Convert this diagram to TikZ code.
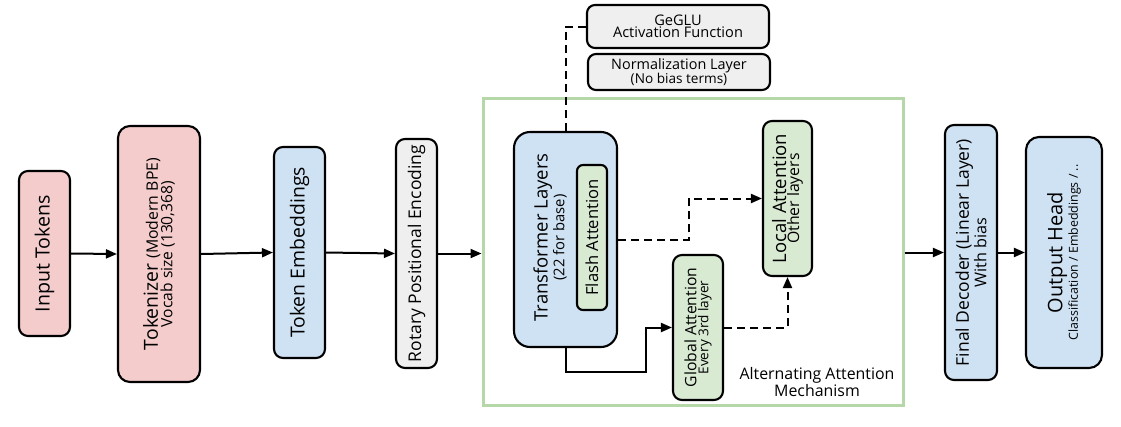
\documentclass[tikz,border=0pt]{standalone}
\usepackage{fontspec}
\setmainfont{Open Sans}
\usetikzlibrary{arrows.meta,calc}
\newcommand\fsz[2]{\fontsize{#1}{#2}\selectfont}
\definecolor{pinkf}{HTML}{F4CCCC}
\definecolor{bluef}{HTML}{CFE2F3}
\definecolor{greenf}{HTML}{D9EAD3}
\definecolor{grayf}{HTML}{EFEFEF}
\definecolor{frameg}{HTML}{B6D7A8}
\tikzset{
  box/.style={draw=black, line width=2.1pt, rounded corners=9pt, rotate=90, align=center, inner sep=0pt},
  hbox/.style={draw=black, line width=2.1pt, rounded corners=8pt, align=center, inner sep=0pt, fill=grayf},
  arr/.style={-{Triangle[length=11pt,width=9pt]}, line width=2pt},
  darr/.style={-{Triangle[length=11pt,width=9pt]}, line width=2pt, dash pattern=on 8pt off 5pt},
  dline/.style={line width=2pt, dash pattern=on 8pt off 5pt},
}
\begin{document}
\begin{tikzpicture}[x=1pt,y=-1pt]
\useasboundingbox[fill=white] (0,0) rectangle (1121,426);
% left chain
\node[box, fill=pinkf, minimum width=165pt, minimum height=51pt] (in) at (44.5,253.5) {\fsz{19.6}{23}Input Tokens};
\node[box, fill=pinkf, rounded corners=12pt, minimum width=256pt, minimum height=82pt] (tok) at (159,254)
  {\fsz{19.4}{22}Tokenizer {\fsz{15.8}{22}(Modern BPE)}\\[-1pt]\fsz{15.6}{19}Vocab size (130,368)};
\node[box, fill=bluef, minimum width=211pt, minimum height=51pt] (emb) at (299.5,252.5) {\fsz{19.4}{22}Token Embeddings};
\node[box, fill=grayf, minimum width=229pt, minimum height=41pt] (rot) at (416.5,253.5) {\fsz{17.5}{20}Rotary Positional Encoding};
% frame
\node[draw=frameg, line width=3pt, minimum width=420pt, minimum height=307pt, inner sep=0pt] (frame) at (693,251.5) {};
% top boxes
\node[hbox, minimum width=182pt, minimum height=43pt] (geglu) at (678,26.5) {\fsz{14.6}{18.5}GeGLU\\\fsz{14.6}{18.5}Activation Function};
\node[hbox, minimum width=182pt, minimum height=36pt] (norm) at (679,72) {\fsz{14.4}{16.5}Normalization Layer\\\fsz{13.6}{16}(No bias terms)};
% transformer
\node[box, fill=bluef, rounded corners=16pt, minimum width=215pt, minimum height=103pt] (tl) at (565.5,239.5) {};
\node[rotate=90, align=center, inner sep=0pt] (tlt) at (550,237.5) {\fsz{18.5}{21}Transformer Layers\\\fsz{14.8}{18}(22 for base)};
\node[box, fill=greenf, rounded corners=6pt, minimum width=145pt, minimum height=30pt] (fl) at (592,237.5) {\fsz{16.6}{18}Flash Attention};
\node[box, fill=greenf, minimum width=155pt, minimum height=49pt] (loc) at (787.5,198.5) {\fsz{18.5}{21}Local Attention\\\fsz{15.8}{18}Other layers};
\node[box, fill=greenf, minimum width=145pt, minimum height=50pt] (gl) at (698,327.5) {\fsz{15.7}{17}Global Attention\\\fsz{13.6}{15}Every 3rd layer};
\node[align=center, inner sep=0pt] (alt) at (817,382) {\fsz{15.9}{18}Alternating Attention\\\fsz{15.9}{18}Mechanism};
% right
\node[box, fill=bluef, minimum width=255pt, minimum height=52pt] (fd) at (971,252.5) {\fsz{17.5}{21}Final Decoder (Linear Layer)\\\fsz{16.2}{19}With bias};
\node[box, fill=bluef, rounded corners=13pt, minimum width=231pt, minimum height=76pt] (out) at (1064,252.5) {\fsz{20}{21}Output Head\\\fsz{12.4}{15}Classification / Embeddings / ..};
% coordinates
\coordinate (j1) at (689,0);
\coordinate (j2) at (646,372);
% connectors
\draw[arr] (in.south) -- (tok.north);
\draw[arr] (tok.south) -- (emb.north);
\draw[arr] (emb.south) -- (rot.north);
\draw[arr] (rot.south) -- (rot.south -| frame.west);
\draw[arr] (frame.east |- fd.north) -- (fd.north);
\draw[arr] (fd.south) -- (out.north);
\draw[dline] (geglu.west) -| (tl.east);
\draw[darr] (tl.south) -- (tl.south -| j1) |- (loc.north);
\draw[arr] (tl.west) |- (j2) |- (gl.north);
\draw[darr] (gl.south) -| (loc.west);
\end{tikzpicture}
\end{document}
